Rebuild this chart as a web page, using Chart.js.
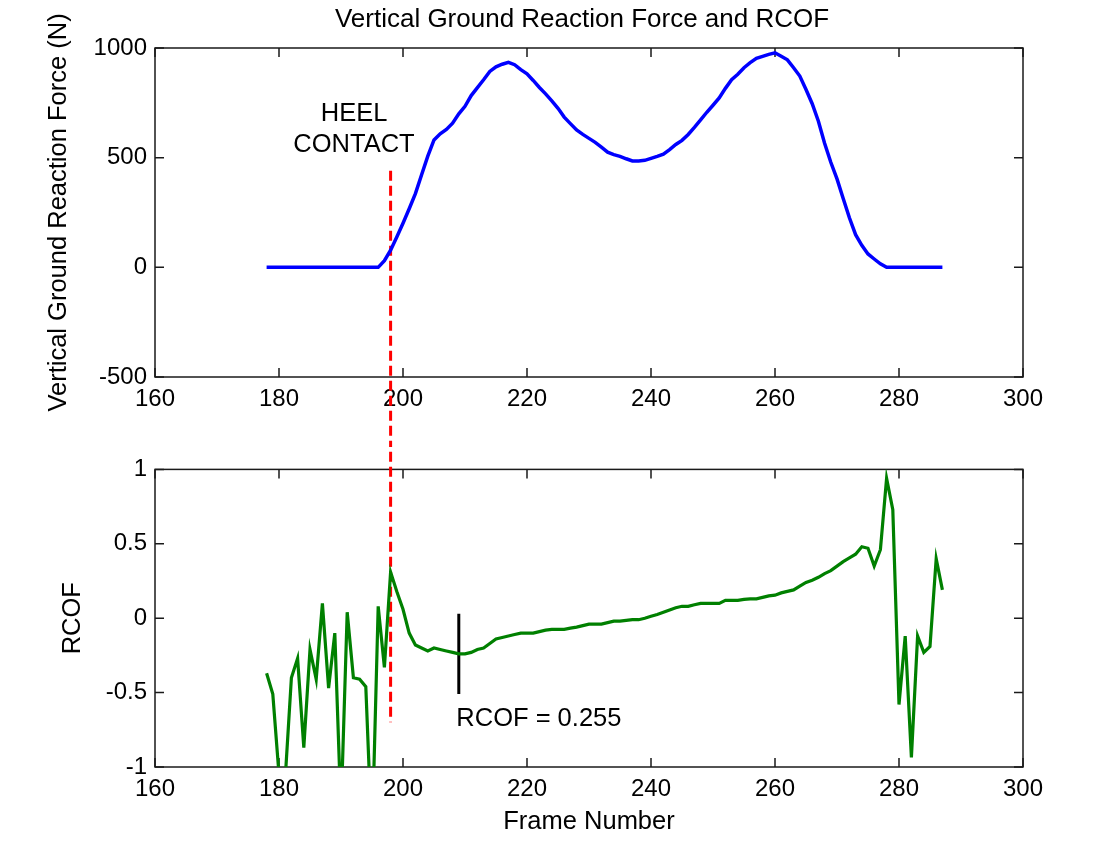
<!DOCTYPE html>
<html><head><meta charset="utf-8">
<script src="https://cdn.jsdelivr.net/npm/chart.js@4.4.1/dist/chart.umd.min.js"></script>
<style>
html,body{margin:0;padding:0;background:#fff;width:1120px;height:843px;overflow:hidden;}
#a{position:absolute;left:0;top:0;}
#b{position:absolute;left:0;top:447px;}
</style></head><body>
<canvas id="a" width="1120" height="447"></canvas>
<canvas id="b" width="1120" height="396"></canvas>
<script>
// ---------- data ----------
const frames = [178,179,180,181,182,183,184,185,186,187,188,189,190,191,192,193,194,195,196,197,
  198,199,200,201,202,203,204,205,206,207,208,209,210,211,212,213,214,215,216,217,
  218,219,220,221,222,223,224,225,226,227,228,229,230,231,232,233,234,235,236,237,
  238,239,240,241,242,243,244,245,246,247,248,249,250,251,252,253,254,255,256,257,
  258,259,260,261,262,263,264,265,266,267,268,269,270,271,272,273,274,275,276,277,
  278,279,280,281,282,283,284,285,286,287];
const vgrf = [0,0,0,0,0,0,0,0,0,0,0,0,0,0,0,0,0,0,0,30,
  78,138,201,267,336,422,507,581,609,629,657,700,734,783,819,855,893,914,926,935,
  924,901,882,852,820,791,759,725,685,655,626,606,588,570,548,525,514,506,495,485,
  485,488,497,506,516,537,560,579,606,638,672,707,739,772,816,855,880,910,933,953,
  962,971,978,962,946,910,872,811,746,666,566,479,403,314,226,149,100,61,38,16,
  0,0,0,0,0,0,0,0,0,0];
const rcof = [-0.37,-0.51,-1.05,-1.08,-0.40,-0.27,-0.87,-0.21,-0.41,0.10,-0.47,-0.10,-1.3,0.04,-0.40,-0.41,-0.46,-1.5,0.08,-0.33,
  0.31,0.18,0.06,-0.10,-0.18,-0.20,-0.22,-0.20,-0.21,-0.22,-0.23,-0.24,-0.24,-0.23,-0.21,-0.20,-0.17,-0.14,-0.13,-0.12,
  -0.11,-0.10,-0.10,-0.10,-0.09,-0.08,-0.075,-0.075,-0.075,-0.067,-0.06,-0.05,-0.04,-0.04,-0.04,-0.03,-0.02,-0.02,-0.015,-0.01,
  -0.01,0.0,0.013,0.025,0.04,0.055,0.07,0.08,0.08,0.09,0.10,0.10,0.10,0.10,0.12,0.12,0.12,0.127,0.13,0.13,
  0.14,0.15,0.155,0.17,0.18,0.19,0.215,0.24,0.255,0.275,0.30,0.32,0.35,0.38,0.405,0.43,0.48,0.47,0.35,0.46,
  0.94,0.73,-0.58,-0.12,-0.935,-0.12,-0.23,-0.19,0.40,0.19];
const frameTicks = [160,180,200,220,240,260,280,300];
const forceTicks = [-500,0,500,1000];
const rcofTicks = [-1,-0.5,0,0.5,1];
const heelFrame = 198;
const heelLineForce = [440, -900];
const heelLineRcof = [1.2, -0.70];
const markerFrame = 209;
const markerRcof = [0.03, -0.51];
const titleText = 'Vertical Ground Reaction Force and RCOF';
const heelText = ['HEEL', 'CONTACT'];
const heelTextPos = {x: 192.1, y: [701, 556]};
const rcofText = 'RCOF = 0.255';
const rcofTextPos = {x: 208.6, y: -0.68};

// ---------- setup ----------
const FONT = '"Liberation Sans", Arial, Helvetica, sans-serif';
Chart.defaults.font.family = FONT;
Chart.defaults.font.size = 24;
Chart.defaults.color = '#000';

const pts = (ys) => frames.map((f, i) => ({x: f, y: ys[i]}));

const framePlugin = {
  id: 'frameBox',
  beforeDatasetsDraw(chart) {
    const {ctx, chartArea: a, scales} = chart;
    ctx.save();
    ctx.strokeStyle = '#1a1a1a';
    ctx.lineWidth = 1.5;
    ctx.strokeRect(a.left, a.top, a.right - a.left, a.bottom - a.top);
    const L = 9;
    ctx.beginPath();
    scales.x.ticks.forEach(t => {
      const p = scales.x.getPixelForValue(t.value);
      ctx.moveTo(p, a.bottom); ctx.lineTo(p, a.bottom - L);
      ctx.moveTo(p, a.top); ctx.lineTo(p, a.top + L);
    });
    scales.y.ticks.forEach(t => {
      const p = scales.y.getPixelForValue(t.value);
      ctx.moveTo(a.left, p); ctx.lineTo(a.left + L, p);
      ctx.moveTo(a.right, p); ctx.lineTo(a.right - L, p);
    });
    ctx.stroke();
    ctx.restore();
  }
};

const notesPlugin = {
  id: 'notes',
  afterDatasetsDraw(chart, args, opts) {
    const {ctx, scales, chartArea: a} = chart;
    ctx.save();
    ctx.fillStyle = '#000';
    ctx.textBaseline = 'middle';
    (opts.items || []).forEach(it => {
      ctx.font = (it.size || 25.5) + 'px ' + FONT;
      ctx.textAlign = it.align || 'center';
      const x = it.px !== undefined ? it.px : scales.x.getPixelForValue(it.x);
      const y = it.py !== undefined ? it.py : scales.y.getPixelForValue(it.y);
      ctx.fillText(it.text, x, y);
    });
    ctx.restore();
  }
};

function xScale(height, pad) {
  return {
    type: 'linear', min: 160, max: 300,
    afterBuildTicks: s => { s.ticks = frameTicks.map(v => ({value: v})); },
    afterFit: s => { s.height = height; },
    grid: {display: false, drawTicks: false},
    border: {display: false},
    ticks: {padding: pad, callback: v => String(v), maxRotation: 0, autoSkip: false}
  };
}

function yScale(min, max, ticks, title, titlePad) {
  return {
    type: 'linear', min: min, max: max,
    afterBuildTicks: s => { s.ticks = ticks.map(v => ({value: v})); },
    afterFit: s => { s.width = 155; },
    grid: {display: false, drawTicks: false},
    border: {display: false},
    ticks: {padding: 8, callback: v => String(v), autoSkip: false},
    title: {display: true, text: title, font: {size: 25.5}, padding: {top: titlePad, bottom: 0}}
  };
}

const common = {
  type: 'line',
  plugins: [framePlugin, notesPlugin]
};

new Chart(document.getElementById('a'), {
  ...common,
  data: {
    datasets: [
      {data: pts(vgrf), borderColor: '#0000ff', borderWidth: 3.5, pointRadius: 0, tension: 0, fill: false},
      {data: heelLineForce.map(v => ({x: heelFrame, y: v})), borderColor: '#ff0000', borderWidth: 3,
       borderDash: [10, 5], pointRadius: 0, clip: false, fill: false}
    ]
  },
  options: {
    responsive: false, animation: false, devicePixelRatio: 1,
    layout: {padding: {top: 48, right: 97, left: 0, bottom: 0}},
    scales: {
      x: xScale(70, 8),
      y: yScale(-500, 1000, forceTicks, 'Vertical Ground Reaction Force (N)', 44)
    },
    plugins: {
      legend: {display: false}, tooltip: {enabled: false}, title: {display: false},
      notes: {items: [
        {text: titleText, px: 582, py: 20, size: 26},
        {text: heelText[0], x: heelTextPos.x, y: heelTextPos.y[0]},
        {text: heelText[1], x: heelTextPos.x, y: heelTextPos.y[1]}
      ]}
    }
  }
});

const xb = xScale(76, 8);
xb.title = {display: true, text: 'Frame Number', font: {size: 25.5}, padding: {top: 0, bottom: 6}};

new Chart(document.getElementById('b'), {
  ...common,
  data: {
    datasets: [
      {data: pts(rcof), borderColor: '#008000', borderWidth: 3.2, pointRadius: 0, tension: 0, fill: false},
      {data: heelLineRcof.map(v => ({x: heelFrame, y: v})), borderColor: '#ff0000', borderWidth: 3,
       borderDash: [10, 5], borderDashOffset: 3, pointRadius: 0, clip: false, fill: false},
      {data: markerRcof.map(v => ({x: markerFrame, y: v})), borderColor: '#000000', borderWidth: 3,
       pointRadius: 0, fill: false}
    ]
  },
  options: {
    responsive: false, animation: false, devicePixelRatio: 1,
    layout: {padding: {top: 8, right: 97, left: 0, bottom: 0}},
    scales: {
      x: xb,
      y: yScale(-1, 1, rcofTicks, 'RCOF', 58)
    },
    plugins: {
      legend: {display: false}, tooltip: {enabled: false}, title: {display: false},
      notes: {items: [
        {text: rcofText, x: rcofTextPos.x, y: rcofTextPos.y, align: 'left'}
      ]}
    }
  }
});
</script>
</body></html>
